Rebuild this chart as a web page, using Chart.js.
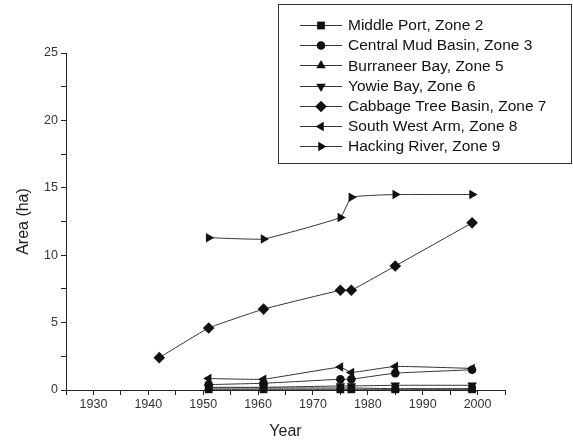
<!DOCTYPE html>
<html>
<head>
<meta charset="utf-8">
<script src="https://cdn.jsdelivr.net/npm/chart.js@4/dist/chart.umd.min.js"></script>
<style>
html,body{margin:0;padding:0;background:#fff;}
#wrap{width:573px;height:441px;}
</style>
</head>
<body>
<div id="wrap"><canvas id="c" width="573" height="441"></canvas></div>
<script>
const years = [1951, 1961, 1975, 1977, 1985, 1999];
const cabbageYears = [1942, 1951, 1961, 1975, 1977, 1985, 1999];

const middlePort   = [0.05, 0.05, 0.05, 0.05, 0.05, 0.05];
const centralMud   = [0.4, 0.5, 0.8, 0.8, 1.25, 1.5];
const burraneerBay = [0.15, 0.15, 0.15, 0.15, 0.1, 0.1];
const yowieBay     = [0.2, 0.2, 0.3, 0.3, 0.35, 0.35];
const cabbageTree  = [2.4, 4.6, 6.0, 7.4, 7.4, 9.2, 12.4];
const southWestArm = [0.85, 0.8, 1.7, 1.3, 1.75, 1.6];
const hackingRiver = [11.3, 11.2, 12.8, 14.3, 14.5, 14.5];

const seriesNames = [
  'Middle Port, Zone 2',
  'Central Mud Basin, Zone 3',
  'Burraneer Bay, Zone 5',
  'Yowie Bay, Zone 6',
  'Cabbage Tree Basin, Zone 7',
  'South West Arm, Zone 8',
  'Hacking River, Zone 9'
];

const xTicks = {min: 1925, max: 2005, step: 5, labelEvery: 10};
const yTicks = {min: 0, max: 25, step: 2.5, labelEvery: 5};

function pts(xs, ys){ return xs.map((x,i)=>({x:x, y:ys[i]})); }

const styles = [
  {pointStyle:'rect', rotation:0, radius:5.5},
  {pointStyle:'circle', rotation:0, radius:4.3},
  {pointStyle:'triangle', rotation:0, radius:5.5},
  {pointStyle:'triangle', rotation:180, radius:5.5},
  {pointStyle:'rectRot', rotation:0, radius:5.8},
  {pointStyle:'triangle', rotation:-90, radius:5.5},
  {pointStyle:'triangle', rotation:90, radius:5.5}
];
const seriesData = [
  pts(years, middlePort),
  pts(years, centralMud),
  pts(years, burraneerBay),
  pts(years, yowieBay),
  pts(cabbageYears, cabbageTree),
  pts(years, southWestArm),
  pts(years, hackingRiver)
];

const datasets = seriesNames.map((name,i)=>({
  label: name,
  data: seriesData[i],
  borderColor: '#333',
  backgroundColor: '#111',
  borderWidth: 1,
  pointStyle: styles[i].pointStyle,
  pointRotation: styles[i].rotation,
  pointRadius: styles[i].radius,
  pointHoverRadius: styles[i].radius,
  pointBorderWidth: 0,
  pointBackgroundColor: '#111',
  tension: 0.1,
  clip: false
}));

const legendPlugin = {
  id: 'boxLegend',
  afterDraw(chart){
    const ctx = chart.ctx;
    const bx = 278.5, by = 4.5, bw = 293, bh = 159;
    ctx.save();
    ctx.fillStyle = '#fff';
    ctx.fillRect(bx, by, bw, bh);
    ctx.strokeStyle = '#333';
    ctx.lineWidth = 1;
    ctx.strokeRect(bx, by, bw, bh);
    ctx.font = '15.5px "Liberation Sans", Arial, sans-serif';
    ctx.textBaseline = 'middle';
    chart.data.datasets.forEach((ds,i)=>{
      const y = 25 + i*20.2;
      ctx.strokeStyle = '#333';
      ctx.lineWidth = 1;
      ctx.beginPath();
      ctx.moveTo(300, Math.round(y)+0.5);
      ctx.lineTo(342, Math.round(y)+0.5);
      ctx.stroke();
      ctx.fillStyle = '#111';
      Chart.helpers.drawPoint(ctx, {pointStyle: ds.pointStyle, rotation: ds.pointRotation, radius: ds.pointRadius, borderWidth: 0}, 321, Math.round(y)+0.5);
      ctx.fillStyle = '#111';
      ctx.fillText(ds.label, 348, y+1);
    });
    ctx.restore();
  }
};

new Chart(document.getElementById('c'), {
  type: 'line',
  data: {datasets: datasets},
  plugins: [legendPlugin],
  options: {
    responsive: false,
    animation: false,
    events: [],
    layout: {padding: {top: 53, right: 68, left: 0, bottom: 0}},
    plugins: {legend: {display: false}, tooltip: {enabled: false}},
    scales: {
      x: {
        type: 'linear',
        min: xTicks.min, max: xTicks.max,
        afterFit(s){ s.height = 51; },
        border: {display: true, color: '#222', width: 1},
        grid: {display: true, drawOnChartArea: false, drawTicks: true, tickLength: 5, color: '#222'},
        ticks: {
          stepSize: xTicks.step, autoSkip: false, maxRotation: 0, padding: 2,
          color: '#333', font: {family: '"Liberation Sans", Arial, sans-serif', size: 12.5},
          callback: v => (v % xTicks.labelEvery === 0 ? String(v) : '')
        },
        title: {display: true, text: 'Year', color: '#222', padding: {top: 0, bottom: 0},
          font: {family: '"Liberation Sans", Arial, sans-serif', size: 16}}
      },
      y: {
        type: 'linear',
        min: yTicks.min, max: yTicks.max,
        afterFit(s){ s.width = 66; },
        border: {display: true, color: '#222', width: 1},
        grid: {display: true, drawOnChartArea: false, drawTicks: true, tickLength: 5, color: '#222'},
        ticks: {
          stepSize: yTicks.step, autoSkip: false, padding: 3,
          color: '#333', font: {family: '"Liberation Sans", Arial, sans-serif', size: 12.5},
          callback: v => (v % yTicks.labelEvery === 0 ? String(v) : '')
        },
        title: {display: true, text: 'Area (ha)', color: '#222', padding: {top: 14, bottom: 0},
          font: {family: '"Liberation Sans", Arial, sans-serif', size: 16}}
      }
    }
  }
});
</script>
</body>
</html>
